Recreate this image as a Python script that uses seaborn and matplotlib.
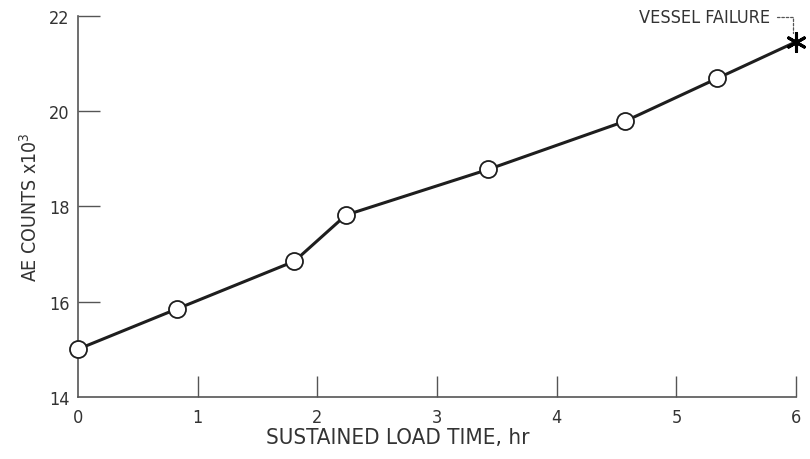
import numpy as np
import pandas as pd
import matplotlib.pyplot as plt
import seaborn as sns

# data
load_time_hr = [0.0, 0.83, 1.81, 2.24, 3.43, 4.57, 5.34]
ae_counts_k = [15.0, 15.85, 16.85, 17.82, 18.78, 19.79, 20.69]
failure_time = 6.0
failure_counts = 21.46
x_ticks = [0, 1, 2, 3, 4, 5, 6]
y_ticks = [14, 16, 18, 20, 22]

sns.set_style("white")
plt.rcParams["font.family"] = ["DejaVu Sans"]
plt.rcParams["font.stretch"] = "condensed"

ink = "#1e1e1e"
text_col = "#333333"

df = pd.DataFrame({"time": load_time_hr + [failure_time],
                   "counts": ae_counts_k + [failure_counts]})

fig = plt.figure(figsize=(8.1, 4.6), dpi=100)
ax = fig.add_axes([0.096, 0.135, 0.887, 0.828])

sns.lineplot(data=df, x="time", y="counts", ax=ax, color=ink, linewidth=2.2,
             sort=False)
pts = df.iloc[:-1]
sns.scatterplot(data=pts, x="time", y="counts", ax=ax, s=150, marker="o",
                facecolor="white", edgecolor=ink, linewidth=1.3, zorder=5,
                clip_on=False)
ax.scatter([failure_time], [failure_counts], marker=(6, 2, 0), s=170,
           color="black", linewidths=2.2, zorder=6, clip_on=False)

ax.set_xlim(0, 6)
ax.set_ylim(14, 22)
ax.set_xticks(x_ticks)
ax.set_yticks(y_ticks)
ax.tick_params(axis="both", direction="in", length=16, width=1.0,
               color="#555555", labelsize=13, labelcolor=text_col, pad=6,
               bottom=True, left=True)
ax.tick_params(axis="x", pad=8, length=15)

# no tick marks in the corner at the origin
ax.xaxis.get_major_ticks()[0].tick1line.set_visible(False)
ax.yaxis.get_major_ticks()[0].tick1line.set_visible(False)

for s in ["top", "right"]:
    ax.spines[s].set_visible(False)
for s in ["left", "bottom"]:
    ax.spines[s].set_color("#555555")
    ax.spines[s].set_linewidth(1.2)

ax.set_xlabel("SUSTAINED LOAD TIME, hr", fontsize=16, color=text_col,
              labelpad=2)
ax.xaxis.set_label_coords(0.446, -0.078)
ax.set_ylabel("AE COUNTS x10$^3$", fontsize=14, color=text_col, labelpad=6)

ax.annotate("VESSEL FAILURE", xy=(failure_time - 0.03, failure_counts + 0.12),
            xytext=(5.78, 21.97), textcoords="data", ha="right", va="center",
            fontsize=13, color=text_col,
            arrowprops=dict(arrowstyle="-", color="#555555", lw=0.9,
                            linestyle=(0, (2, 1.5)), shrinkA=3,
                            connectionstyle="angle,angleA=0,angleB=90,rad=0"))

fig.savefig("out.png", dpi=100)
